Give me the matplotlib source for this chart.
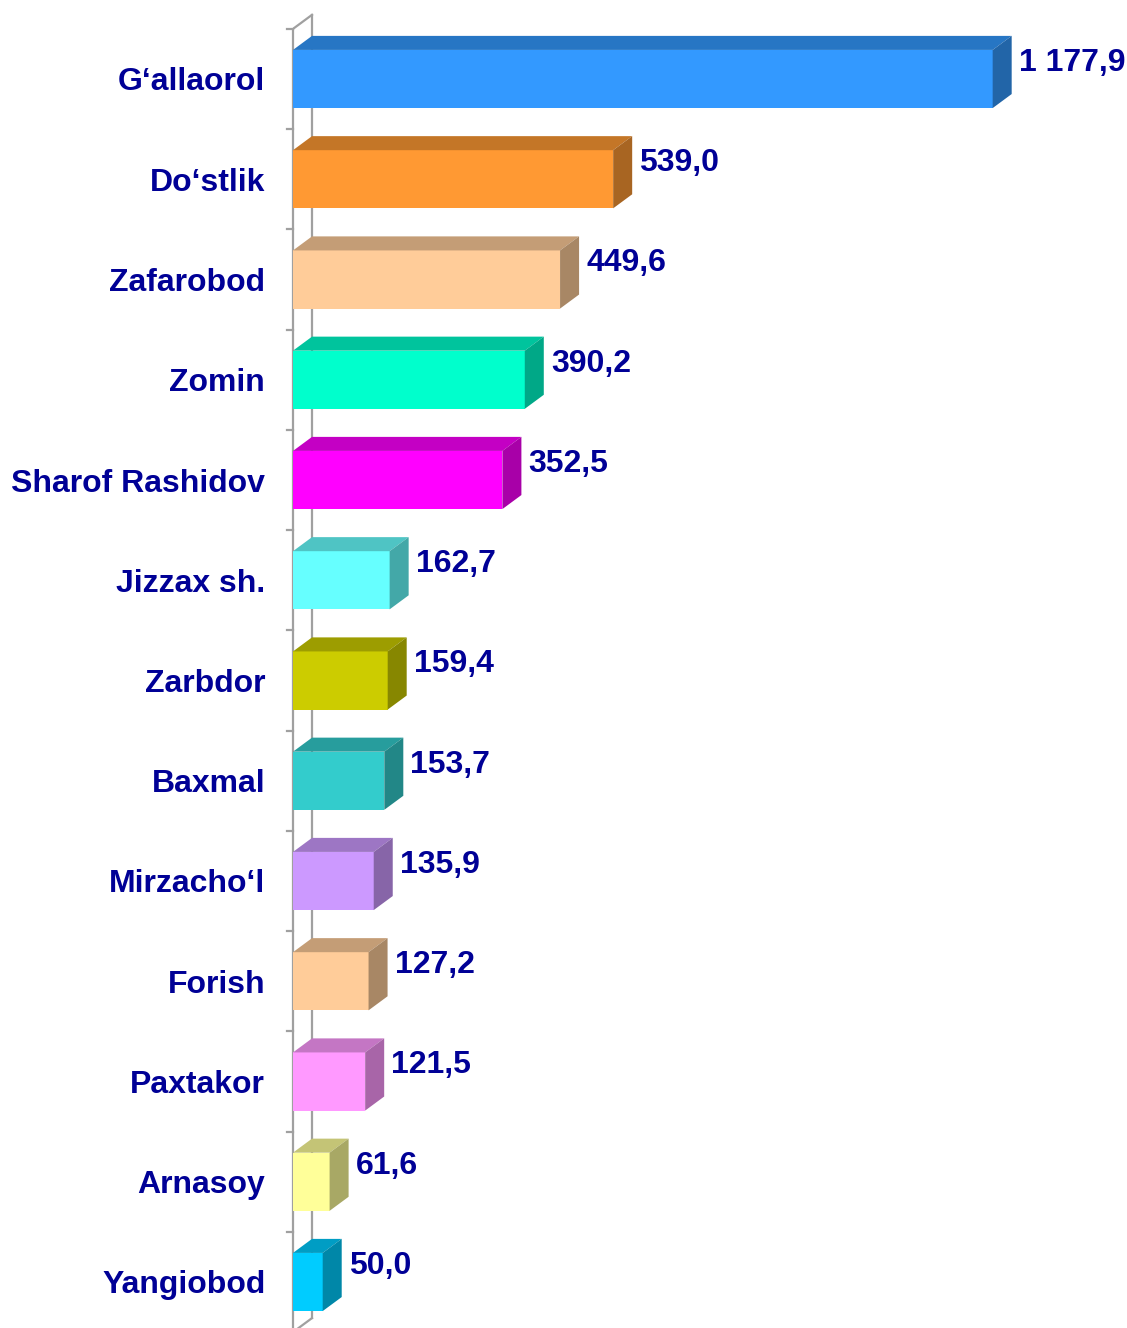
import matplotlib
matplotlib.use("Agg")
from matplotlib import pyplot as plt
from matplotlib.patches import Polygon
from matplotlib.colors import to_rgb

districts = ["G‘allaorol", "Do‘stlik", "Zafarobod", "Zomin", "Sharof Rashidov",
             "Jizzax sh.", "Zarbdor", "Baxmal", "Mirzacho‘l", "Forish",
             "Paxtakor", "Arnasoy", "Yangiobod"]
values = [1177.9, 539.0, 449.6, 390.2, 352.5, 162.7, 159.4, 153.7, 135.9,
          127.2, 121.5, 61.6, 50.0]
colors = ["#3399FF", "#FF9933", "#FFCC99", "#00FFCC", "#FF00FF", "#66FFFF",
          "#CCCC00", "#33CCCC", "#CC99FF", "#FFCC99", "#FF99FF", "#FFFF99",
          "#00CCFF"]

W, H = 1127, 1328
fig = plt.figure(figsize=(W / 100, H / 100), dpi=100)
ax = fig.add_axes([293 / W, 0, (W - 293) / W, 1])

step = 100.25                       # px per category
xmax = (W - 293) / 0.594
ax.set_xlim(0, xmax)
ax.set_ylim((H - 79) / step, -79 / step)

dx, dy = 32, 0.14                   # depth of the 3D extrusion
bh = 0.58
txt = "#000096"


def shade(c, f):
    r, g, b = to_rgb(c)
    return (r * f, g * f, b * f)


# back wall / axis frame
wall = "#A0A0A0"
n = len(values)
ax.plot([0, 0], [-0.5, n - 0.5], color=wall, lw=1.6, clip_on=False, zorder=1)
ax.plot([dx, dx], [-0.5 - dy, n - 0.5 - dy], color=wall, lw=1.6, zorder=1)
ax.plot([0, dx], [-0.5, -0.5 - dy], color=wall, lw=1.6, zorder=1)
ax.plot([0, dx], [n - 0.5, n - 0.5 - dy], color=wall, lw=1.6, zorder=1)
for k in range(n + 1):
    ax.plot([-10, 0], [k - 0.5, k - 0.5], color=wall, lw=1.6,
            clip_on=False, zorder=1)

ypos = list(range(n))
ax.barh(ypos, values, height=bh, color=colors, zorder=3)
for y, v, c in zip(ypos, values, colors):
    top = y - bh / 2
    bot = y + bh / 2
    ax.add_patch(Polygon([(0, top), (v, top), (v + dx, top - dy), (dx, top - dy)],
                         closed=True, facecolor=shade(c, 0.77), lw=0, zorder=3))
    ax.add_patch(Polygon([(v, top), (v + dx, top - dy), (v + dx, bot - dy), (v, bot)],
                         closed=True, facecolor=shade(c, 0.66), lw=0, zorder=3))
    label = f"{v:,.1f}".replace(",", " ").replace(".", ",")
    ax.text(v + dx + 12, y - 0.16, label, ha="left", va="center",
            fontsize=23, fontweight="bold", color=txt,
            family="Liberation Sans", zorder=4)

ax.set_yticks(ypos)
ax.set_yticklabels(districts, fontsize=23, fontweight="bold", color=txt,
                   family="Liberation Sans")
ax.tick_params(axis="y", length=0, pad=20)
ax.set_xticks([])
for s in ax.spines.values():
    s.set_visible(False)

fig.savefig("out.png", dpi=100)
